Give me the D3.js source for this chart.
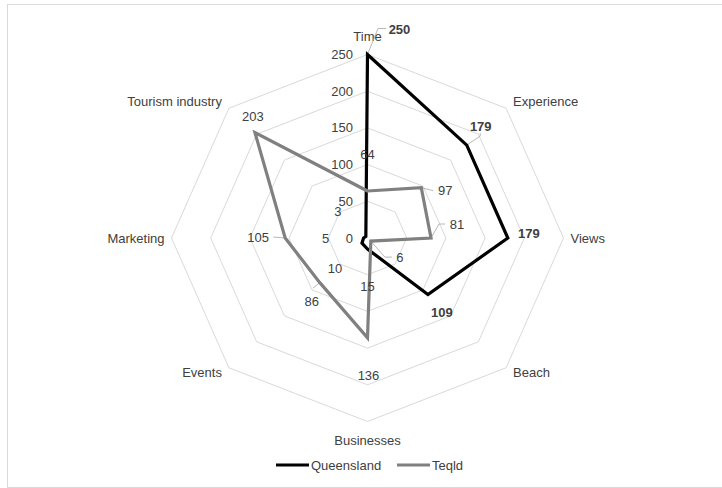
<!DOCTYPE html>
<html>
<head>
<meta charset="utf-8">
<script src="https://cdn.jsdelivr.net/npm/d3@7"></script>
<style>
  body { margin: 0; background: #fff; }
  svg { display: block; font-family: "Liberation Sans", Arial, sans-serif; }
</style>
</head>
<body>
<div class="chart"></div>
<script>
// Radar chart: Queensland vs Teqld mentions per theme
const categories = ["Time", "Experience", "Views", "Beach", "Businesses", "Events", "Marketing", "Tourism industry"];
const queensland = [250, 179, 179, 109, 15, 10, 5, 3];
const teqld = [64, 97, 81, 6, 136, 86, 105, 203];
const tickValues = [0, 50, 100, 150, 200, 250];

// label nudges (pixels from the data point), Excel placed these by hand
const qLabelOffsets = [[32, -25], [14, -19], [21, -5], [14, 18], [0, 37], [-27, 25], [-38, 0], [-28, -25]];
const tLabelOffsets = [[0, -37], [24, 3], [26, -14], [29, 16], [1, 38], [-8, 19], [-27, -1], [-2, -16]];
const qLeaders = [[[10.5, -26], [18.5, -26]], [[13.5, -9], [13.5, -12]], null, null, null, null, null, null];
const tLeaders = [null, [[12, 3]], [[8, -14], [14, -14]], [[14, 16], [21, 16]], null, [[-7, 5.5]], [[-12, -1]], null];
const qBold = [true, true, true, true, false, false, false, false];

const width = 722;
const height = 488;
const cx = 367.5, cy = 238;
const rx = 196, ry = 183.5;   // picture is a little stretched sideways

const svg = d3.select("div.chart")
    .append("svg")
    .attr("width", width)
    .attr("height", height);

svg.append("rect")
    .attr("x", 7.5).attr("y", 4.5)
    .attr("width", 720).attr("height", 483)
    .attr("fill", "none")
    .attr("stroke", "#d9d9d9");

const r = d3.scaleLinear().domain([0, 250]).range([0, 1]);
const angle = d3.scaleLinear().domain([0, categories.length]).range([0, 2 * Math.PI]);

const px = (v, i) => cx + rx * r(v) * Math.sin(angle(i));
const py = (v, i) => cy - ry * r(v) * Math.cos(angle(i));

const ring = d3.line()
    .x(d => px(d.v, d.i))
    .y(d => py(d.v, d.i))
    .curve(d3.curveLinearClosed);

// grid rings
svg.append("g")
    .selectAll("path")
    .data(tickValues.slice(1))
    .enter()
    .append("path")
    .attr("d", t => ring(categories.map((c, i) => ({ v: t, i: i }))))
    .attr("fill", "none")
    .attr("stroke", "#d9d9d9")
    .attr("stroke-width", 1);

// spokes are not drawn in the original; only rings

// tick labels along the Time axis
svg.append("g")
    .selectAll("text")
    .data(tickValues)
    .enter()
    .append("text")
    .attr("x", cx - 14.5)
    .attr("y", t => py(t, 0))
    .attr("dy", "0.35em")
    .attr("text-anchor", "end")
    .attr("font-size", 13)
    .attr("fill", "#404040")
    .text(t => t);

// category labels
svg.append("g")
    .selectAll("text")
    .data(categories)
    .enter()
    .append("text")
    .attr("x", (c, i) => {
        const s = Math.sin(angle(i));
        return px(250, i) + (Math.abs(s) > 0.1 ? 7 * Math.sign(s) : 0);
    })
    .attr("y", (c, i) => {
        const k = Math.cos(angle(i));
        const dy = Math.abs(k) > 0.9 ? -18.5 * k : (k > 0.1 ? -7 : (k < -0.1 ? 5 : 0));
        return py(250, i) + dy;
    })
    .attr("dy", "0.35em")
    .attr("text-anchor", (c, i) => {
        const s = Math.sin(angle(i));
        return s > 0.1 ? "start" : (s < -0.1 ? "end" : "middle");
    })
    .attr("font-size", 13)
    .attr("fill", "#404040")
    .text(c => c);

const series = [
    { name: "Queensland", values: queensland, color: "#000000", offsets: qLabelOffsets, leaders: qLeaders, bold: qBold },
    { name: "Teqld", values: teqld, color: "#808080", offsets: tLabelOffsets, leaders: tLeaders, bold: teqld.map(() => false) }
];

// leader lines first so they sit under the series lines
series.forEach(s => {
    s.values.forEach((v, i) => {
        const pts = s.leaders[i];
        if (!pts) return;
        const x0 = px(v, i), y0 = py(v, i);
        const line = [[x0, y0]].concat(pts.map(p => [x0 + p[0], y0 + p[1]]));
        svg.append("path")
            .attr("d", d3.line()(line))
            .attr("fill", "none")
            .attr("stroke", "#a6a6a6")
            .attr("stroke-width", 0.8);
    });
});

series.forEach(s => {
    svg.append("path")
        .attr("d", ring(s.values.map((v, i) => ({ v: v, i: i }))))
        .attr("fill", "none")
        .attr("stroke", s.color)
        .attr("stroke-width", 3.2)
        .attr("stroke-linejoin", "miter")
        .attr("stroke-miterlimit", 10);
});

// data labels
series.forEach(s => {
    svg.append("g")
        .selectAll("text")
        .data(s.values)
        .enter()
        .append("text")
        .attr("x", (v, i) => px(v, i) + s.offsets[i][0])
        .attr("y", (v, i) => py(v, i) + s.offsets[i][1])
        .attr("dy", "0.35em")
        .attr("text-anchor", "middle")
        .attr("font-size", 13)
        .attr("font-weight", (v, i) => s.bold[i] ? "bold" : "normal")
        .attr("fill", "#404040")
        .text(v => v);
});

// legend
const legendX = [276, 397];
const legend = svg.append("g")
    .selectAll("g")
    .data(series)
    .enter()
    .append("g")
    .attr("transform", (d, i) => `translate(${legendX[i]},465)`);

legend.append("line")
    .attr("x1", 0).attr("x2", 33)
    .attr("y1", 0).attr("y2", 0)
    .attr("stroke", d => d.color)
    .attr("stroke-width", 3.2);

legend.append("text")
    .attr("x", 35)
    .attr("dy", "0.35em")
    .attr("font-size", 13)
    .attr("fill", "#404040")
    .text(d => d.name);
</script>
</body>
</html>
